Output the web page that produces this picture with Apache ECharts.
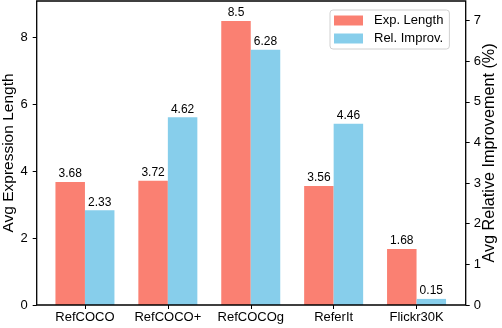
<!DOCTYPE html>
<html>
<head>
<meta charset="utf-8">
<script src="https://cdn.jsdelivr.net/npm/echarts@6/dist/echarts.min.js"></script>
<style>
  html, body { margin: 0; padding: 0; background: #fff; }
  #chart { width: 502px; height: 328px; }
</style>
</head>
<body>
<div id="chart"></div>
<script>
var categories = ['RefCOCO', 'RefCOCO+', 'RefCOCOg', 'ReferIt', 'Flickr30K'];
var expLength = [3.68, 3.72, 8.5, 3.56, 1.68];
var relImprov = [2.33, 4.62, 6.28, 4.46, 0.15];
var leftTicks = [0, 2, 4, 6, 8];
var rightTicks = [0, 1, 2, 3, 4, 5, 6, 7];

var chartDom = document.getElementById('chart');
var myChart = echarts.init(chartDom);
var option;
var font = 'Liberation Sans';

// grid 0 = the framed axes box, grid 1 = inner band area for the bars
option = {
  animation: false,
  textStyle: { fontFamily: font },
  grid: [
    { left: 36.7, right: 36.3, top: 1, bottom: 23, outerBoundsMode: 'none',
      show: true, borderColor: '#000', borderWidth: 1.3, backgroundColor: 'transparent', z: 10 },
    { left: 43.5, right: 44, top: 1, bottom: 23, outerBoundsMode: 'none' }
  ],
  legend: {
    orient: 'vertical',
    left: 330,
    top: 10,
    itemWidth: 29,
    itemHeight: 10,
    itemGap: 5,
    padding: [4, 6, 4, 4],
    borderColor: '#d0d0d0',
    borderWidth: 1,
    borderRadius: 3,
    backgroundColor: 'rgba(255,255,255,0.8)',
    icon: 'rect',
    textStyle: { fontSize: 13, color: '#000', padding: [0, 0, 0, 6] },
    data: ['Exp. Length', 'Rel. Improv.']
  },
  xAxis: [
    { gridIndex: 0, type: 'category', data: categories, show: false },
    {
      gridIndex: 1,
      type: 'category',
      data: categories,
      axisLine: { show: false },
      axisTick: { show: true, alignWithLabel: true, length: 4, lineStyle: { color: '#000' } },
      axisLabel: { color: '#000', fontSize: 13, margin: 6, interval: 0 }
    }
  ],
  yAxis: [
    {
      gridIndex: 0,
      type: 'value',
      min: 0,
      max: 9.1,
      name: 'Avg Expression Length',
      nameLocation: 'middle',
      nameRotate: 90,
      nameGap: 20,
      nameMoveOverlap: false,
      nameTextStyle: { fontSize: 15.5, color: '#000' },
      splitLine: { show: false },
      axisLine: { show: false },
      axisTick: { show: true, length: 4, customValues: leftTicks, lineStyle: { color: '#000' } },
      axisLabel: { color: '#000', fontSize: 13, margin: 9, customValues: leftTicks }
    },
    {
      gridIndex: 0,
      type: 'value',
      min: 0,
      max: 7.48,
      name: 'Avg Relative Improvement (%)',
      nameLocation: 'middle',
      nameRotate: 90,
      nameGap: 16,
      nameMoveOverlap: false,
      nameTextStyle: { fontSize: 16.2, color: '#000' },
      splitLine: { show: false },
      axisLine: { show: false },
      axisTick: { show: true, length: 4, customValues: rightTicks, lineStyle: { color: '#000' } },
      axisLabel: { color: '#000', fontSize: 13, margin: 8, customValues: rightTicks }
    },
    { gridIndex: 1, type: 'value', min: 0, max: 9.1, show: false },
    { gridIndex: 1, type: 'value', min: 0, max: 7.48, show: false }
  ],
  series: [
    {
      name: 'Exp. Length',
      type: 'bar',
      xAxisIndex: 1,
      yAxisIndex: 2,
      barWidth: 29.5,
      barGap: '0%',
      itemStyle: { color: '#FA8072' },
      label: { show: true, position: 'top', distance: 2, fontSize: 12, color: '#000' },
      data: expLength
    },
    {
      name: 'Rel. Improv.',
      type: 'bar',
      xAxisIndex: 1,
      yAxisIndex: 3,
      barWidth: 29.5,
      barGap: '0%',
      itemStyle: { color: '#87CEEB' },
      label: { show: true, position: 'top', distance: 2, fontSize: 12, color: '#000' },
      data: relImprov
    }
  ]
};

option && myChart.setOption(option);
</script>
</body>
</html>
